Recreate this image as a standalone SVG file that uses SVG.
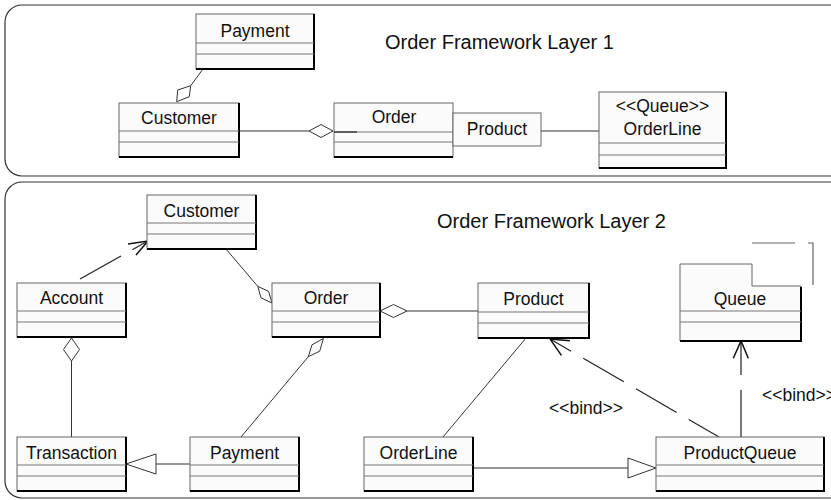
<svg xmlns="http://www.w3.org/2000/svg" width="831" height="500" viewBox="0 0 831 500">
<style>
.frame{fill:none;stroke:#333;stroke-width:1.2}
.box{fill:#fbfbfb;stroke:#666;stroke-width:1}
.sh{fill:none;stroke:#000;stroke-width:2}
.div{stroke:#777;stroke-width:1.2;fill:none}
.t{font-family:"Liberation Sans",Arial,sans-serif;font-size:17.5px;fill:#111;text-anchor:middle}
.title{font-family:"Liberation Sans",Arial,sans-serif;font-size:20px;fill:#111}
.lbl{font-family:"Liberation Sans",Arial,sans-serif;font-size:17.5px;fill:#111}
.ln{fill:none;stroke:#333;stroke-width:1}
.dash{fill:none;stroke:#222;stroke-width:1.2;stroke-dasharray:47 14}
.dia{fill:#fff;stroke:#333;stroke-width:1}
.arr{fill:none;stroke:#111;stroke-width:1.5}
.frag{fill:none;stroke:#666;stroke-width:1.2}
</style>
<rect width="831" height="500" fill="#fff"/>
<g id="layer1">
<rect class="frame" x="5" y="5" width="845" height="171" rx="17"/>
<text class="title" x="385" y="49">Order Framework Layer 1</text>
</g>
<g id="layer2">
<rect class="frame" x="5" y="182" width="845" height="316" rx="17"/>
<text class="title" x="437" y="228">Order Framework Layer 2</text>
</g>
<g id="connectors">
<!-- layer 1 -->
<line class="ln" x1="203" y1="69" x2="190.7" y2="85.7"/>
<polygon class="dia" points="190.7,85.7 177.7,90 176.7,101.7 189.3,96.7"/>
<line class="ln" x1="239" y1="131" x2="309" y2="131"/>
<polygon class="dia" points="309,131 321,124.5 333,131 321,137.5"/>
<line class="ln" x1="541" y1="131" x2="599" y2="131"/>
<!-- layer 2 -->
<line class="dash" x1="80" y1="279" x2="146" y2="242" style="stroke-dasharray:47 13"/>
<polyline class="arr" points="128,244 148,241 136,255"/>
<line class="ln" x1="226" y1="249" x2="257.7" y2="286.3"/>
<polygon class="dia" points="257.7,286.3 268.6,291.4 272,303 261,297.8"/>
<polygon class="dia" points="380,311 393.5,304.5 407,311 393.5,317.5"/>
<line class="ln" x1="407" y1="311" x2="478" y2="311"/>
<polygon class="dia" points="323.3,338.5 319.7,351.2 308.3,356.7 312,344.8"/>
<line class="ln" x1="308.3" y1="356.7" x2="241" y2="437"/>
<polygon class="dia" points="71.5,338 79.5,349.5 71.5,361 63.5,349.5"/>
<line class="ln" x1="71.5" y1="361" x2="71.5" y2="437"/>
<line class="ln" x1="156" y1="464" x2="190" y2="464"/>
<polygon class="dia" points="126,464 156,454 156,474"/>
<line class="ln" x1="473" y1="468" x2="628" y2="468"/>
<polygon class="dia" points="656,468 628,458 628,478"/>
<line class="ln" x1="443" y1="437" x2="526" y2="338"/>
<line class="dash" x1="719" y1="437" x2="551" y2="339.5" style="stroke-dashoffset:12"/>
<polyline class="arr" points="561.4,355.4 550,339 569.9,340.8"/>
<line class="dash" x1="741" y1="437" x2="741" y2="342" style="stroke-dasharray:47 15"/>
<polyline class="arr" points="733.3,358.3 741,341 748.3,358.3"/>
<text class="lbl" x="549" y="414">&lt;&lt;bind&gt;&gt;</text>
<text class="lbl" x="762" y="401">&lt;&lt;bind&gt;&gt;</text>
</g>
<g id="payment1">
<rect class="box" x="196" y="14" width="118" height="55"/>
<polyline class="sh" points="196,69 314,69 314,14"/>
<line class="div" x1="196" y1="43" x2="314" y2="43"/><line class="div" x1="196" y1="54" x2="314" y2="54"/>
<text class="t" x="255" y="36.5">Payment</text>
</g>
<g id="customer1">
<rect class="box" x="119" y="103" width="120" height="54"/>
<polyline class="sh" points="119,157 239,157 239,103"/>
<line class="div" x1="119" y1="131" x2="239" y2="131"/><line class="div" x1="119" y1="142" x2="239" y2="142"/>
<text class="t" x="179" y="124">Customer</text>
</g>
<g id="order1">
<rect class="box" x="334" y="103" width="119" height="54"/>
<polyline class="sh" points="334,157 453,157"/>
<line class="div" x1="334" y1="132" x2="453" y2="132"/><line class="div" x1="334" y1="142" x2="453" y2="142"/>
<line x1="334" y1="132" x2="357" y2="132" stroke="#222" stroke-width="1.2"/>
<text class="t" x="394" y="123">Order</text>
</g>
<g id="product-qualifier1">
<rect class="box" x="453" y="113" width="88" height="33"/>
<text class="t" x="497" y="135">Product</text>
</g>
<g id="orderline1">
<rect class="box" x="599" y="92" width="127" height="76"/>
<polyline class="sh" points="599,168 726,168 726,92"/>
<line class="div" x1="599" y1="143" x2="726" y2="143"/><line class="div" x1="599" y1="155" x2="726" y2="155"/>
<text class="t" x="662.5" y="112">&lt;&lt;Queue&gt;&gt;</text>
<text class="t" x="662.5" y="135">OrderLine</text>
</g>
<g id="customer2">
<rect class="box" x="147" y="195" width="109" height="54"/>
<polyline class="sh" points="147,249 256,249 256,195"/>
<line class="div" x1="147" y1="223" x2="256" y2="223"/><line class="div" x1="147" y1="234" x2="256" y2="234"/>
<text class="t" x="201.5" y="216.5">Customer</text>
</g>
<g id="account">
<rect class="box" x="17" y="283" width="109" height="54"/>
<polyline class="sh" points="17,337 126,337 126,283"/>
<line class="div" x1="17" y1="311" x2="126" y2="311"/><line class="div" x1="17" y1="322" x2="126" y2="322"/>
<text class="t" x="71.5" y="304">Account</text>
</g>
<g id="order2">
<rect class="box" x="272" y="283" width="108" height="54"/>
<polyline class="sh" points="272,337 380,337 380,283"/>
<line class="div" x1="272" y1="311" x2="380" y2="311"/><line class="div" x1="272" y1="322" x2="380" y2="322"/>
<text class="t" x="326" y="304">Order</text>
</g>
<g id="product2">
<rect class="box" x="478" y="283" width="111" height="55"/>
<polyline class="sh" points="478,338 589,338 589,283"/>
<line class="div" x1="478" y1="312" x2="589" y2="312"/><line class="div" x1="478" y1="323" x2="589" y2="323"/>
<text class="t" x="533.5" y="304.5">Product</text>
</g>
<g id="queue">
<path class="box" d="M680,264 H752 V286 H801 V341 H680 Z"/>
<polyline class="sh" points="680,341 801,341 801,287"/>
<line class="div" x1="680" y1="311" x2="801" y2="311"/><line class="div" x1="680" y1="322" x2="801" y2="322"/>
<text class="t" x="740" y="305">Queue</text>
<path class="frag" d="M752,243 H795 M808,243 H813 V285"/>
</g>
<g id="transaction">
<rect class="box" x="17" y="437" width="109" height="54"/>
<polyline class="sh" points="17,491 126,491 126,437"/>
<line class="div" x1="17" y1="465" x2="126" y2="465"/><line class="div" x1="17" y1="476" x2="126" y2="476"/>
<text class="t" x="71.5" y="459">Transaction</text>
</g>
<g id="payment2">
<rect class="box" x="190" y="437" width="109" height="54"/>
<polyline class="sh" points="190,491 299,491 299,437"/>
<line class="div" x1="190" y1="465" x2="299" y2="465"/><line class="div" x1="190" y1="476" x2="299" y2="476"/>
<text class="t" x="244.5" y="459">Payment</text>
</g>
<g id="orderline2">
<rect class="box" x="364" y="437" width="109" height="54"/>
<polyline class="sh" points="364,491 473,491 473,437"/>
<line class="div" x1="364" y1="465" x2="473" y2="465"/><line class="div" x1="364" y1="476" x2="473" y2="476"/>
<text class="t" x="418.5" y="459">OrderLine</text>
</g>
<g id="productqueue">
<rect class="box" x="656" y="437" width="168" height="54"/>
<polyline class="sh" points="656,491 824,491 824,437"/>
<line class="div" x1="656" y1="465" x2="824" y2="465"/><line class="div" x1="656" y1="476" x2="824" y2="476"/>
<text class="t" x="740" y="459">ProductQueue</text>
</g>
</svg>
